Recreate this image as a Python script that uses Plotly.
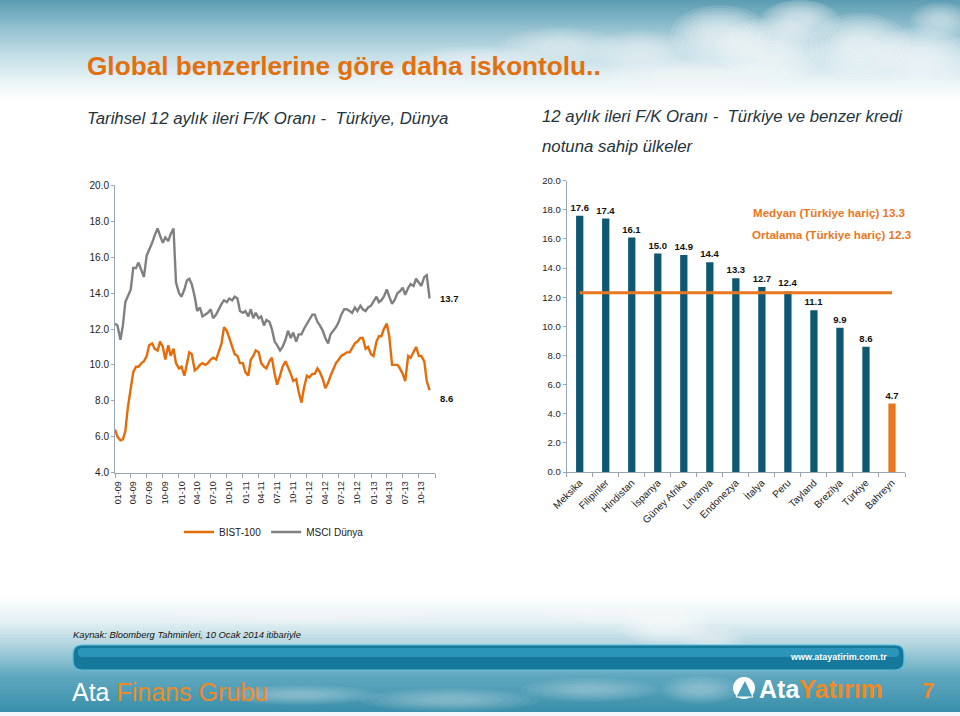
import pandas as pd
import plotly.graph_objects as go

# ---------------- data ----------------
msci_dunya = [12.3, 12.2, 11.4, 12.2, 13.5, 13.8, 14.2, 15.4, 15.4, 15.7,
              15.3, 14.9, 16.1, 16.4, 16.8, 17.2, 17.6, 17.2, 16.8, 17.1,
              16.9, 17.3, 17.6, 14.6, 14.0, 13.8, 14.2, 14.7, 14.8, 14.5,
              13.8, 13.0, 13.2, 12.7, 12.8, 12.9, 13.1, 12.6, 12.8, 13.1,
              13.4, 13.6, 13.5, 13.7, 13.6, 13.8, 13.7, 13.0, 12.9, 13.0,
              12.7, 13.1, 12.6, 12.9, 12.6, 12.7, 12.2, 12.5, 12.4, 12.0,
              11.3, 11.1, 10.8, 11.0, 11.4, 11.9, 11.5, 11.8, 11.3, 11.7,
              11.7, 12.0, 12.3, 12.5, 12.8, 12.8, 12.4, 12.2, 11.9, 11.5,
              11.2, 11.7, 11.9, 12.1, 12.4, 12.8, 13.1, 13.1, 13.0, 12.9,
              13.2, 13.0, 13.3, 13.1, 13.0, 13.2, 13.3, 13.5, 13.8, 13.5,
              13.6, 13.8, 14.2, 13.8, 13.4, 13.6, 14.0, 14.1, 14.3, 13.9,
              14.3, 14.5, 14.4, 14.8, 14.6, 14.4, 14.9, 15.0, 13.7]
bist_100 = [6.4, 6.0, 5.8, 5.85, 6.3, 7.6, 8.7, 9.6, 9.9, 9.9,
            10.1, 10.2, 10.5, 11.1, 11.2, 10.9, 10.8, 11.3, 11.0, 10.3,
            11.1, 10.5, 10.9, 10.1, 9.8, 9.9, 9.4, 10.0, 10.7, 10.6,
            9.7, 9.8, 10.0, 10.1, 10.0, 10.1, 10.3, 10.4, 10.3, 10.7,
            11.2, 12.1, 11.9, 11.5, 11.0, 10.6, 10.5, 10.1, 10.1, 9.6,
            9.4, 10.3, 10.5, 10.8, 10.7, 10.1, 9.9, 9.8, 10.2, 10.4,
            9.5, 8.9, 9.4, 9.9, 10.2, 9.9, 9.5, 9.1, 9.2, 8.5,
            7.9, 8.7, 9.4, 9.3, 9.5, 9.5, 9.8, 9.6, 9.2, 8.7,
            9.0, 9.4, 9.8, 10.1, 10.3, 10.5, 10.6, 10.7, 10.7, 10.9,
            11.2, 11.3, 11.5, 11.5, 10.9, 11.0, 10.6, 10.5, 11.3, 11.6,
            11.6, 12.0, 12.3, 11.6, 10.0, 10.0, 10.0, 9.8, 9.5, 9.1,
            10.5, 10.4, 10.7, 11.0, 10.5, 10.5, 10.2, 9.1, 8.6]
dates = pd.date_range("2009-01-01", periods=len(msci_dunya), freq="SMS")

ulkeler = ["Meksika", "Filipinler", "Hindistan", "İspanya", "Güney Afrika", "Litvanya",
           "Endonezya", "İtalya", "Peru", "Tayland", "Brezilya", "Türkiye", "Bahreyn"]
fk_orani = [17.6, 17.4, 16.1, 15.0, 14.9, 14.4, 13.3, 12.7, 12.4, 11.1, 9.9, 8.6, 4.7]
vurgulu = "Bahreyn"
medyan = 13.3
ortalama = 12.3

# ---------------- style ----------------
W, H = 960, 716
FONT = "Liberation Sans, Arial, sans-serif"
ORANGE = "#E46C0A"
ORANGE2 = "#E87722"
GRAY = "#808080"
TEAL = "#0E5872"
AXIS = "#9AA6B2"
TXT = "#222222"


def px(x):
    return x / W


def py(y):
    return 1 - y / H


def mix(c1, c2, t):
    a = [int(c1[i:i + 2], 16) for i in (1, 3, 5)]
    b = [int(c2[i:i + 2], 16) for i in (1, 3, 5)]
    return "rgb(%d,%d,%d)" % tuple(round(a[k] + (b[k] - a[k]) * t) for k in range(3))


def grad(stops, y0, y1, step=2):
    out = []
    y = y0
    while y < y1:
        yc = y + step / 2
        col = stops[-1][1]
        for i in range(len(stops) - 1):
            if stops[i][0] <= yc <= stops[i + 1][0]:
                t = (yc - stops[i][0]) / (stops[i + 1][0] - stops[i][0])
                col = mix(stops[i][1], stops[i + 1][1], t)
                break
        out.append(dict(type="rect", xref="paper", yref="paper", x0=0, x1=1,
                        y0=max(0, py(y + step + 0.5)), y1=py(y), fillcolor=col,
                        line=dict(width=0), layer="below"))
        y += step
    return out


def cloud(cx, cy, rx, ry, op, n=8):
    out = []
    for k in range(n):
        s = 1.0 - k * (0.8 / n)
        out.append(dict(type="circle", xref="paper", yref="paper",
                        x0=px(cx - rx * s), x1=px(cx + rx * s),
                        y0=min(1, max(0, py(cy + ry * s))), y1=min(1, max(0, py(cy - ry * s))),
                        fillcolor="white", opacity=op / (n * 0.9), line=dict(width=0), layer="below"))
    return out


shapes = []
# header sky
shapes += grad([(0, "#5C9CB2"), (28, "#93C0CF"), (55, "#C3DEE7"), (80, "#E9F3F6"), (102, "#FFFFFF")], 0, 102)
# footer sky
shapes += grad([(596, "#FFFFFF"), (622, "#E4F0F4"), (646, "#AFD3DE"), (676, "#5FA8BF"), (712, "#3A8FAA")], 596, 712)
shapes.append(dict(type="rect", xref="paper", yref="paper", x0=0, x1=1, y0=0, y1=py(712),
                   fillcolor="#F2F7F9", line=dict(width=0), layer="below"))
# clouds (header)
for c in [(480, 60, 70, 14, 0.5), (560, 45, 60, 18, 0.5), (640, 50, 50, 20, 0.55),
          (720, 35, 50, 30, 0.85), (770, 50, 55, 32, 0.85), (800, 20, 40, 22, 0.75),
          (860, 45, 50, 32, 0.85), (920, 55, 50, 28, 0.75), (940, 20, 30, 18, 0.55),
          (700, 75, 100, 16, 0.6), (420, 75, 60, 10, 0.45)]:
    shapes += cloud(*c)
# clouds (footer)
for c in [(665, 625, 45, 22, 0.75), (610, 612, 70, 12, 0.6), (710, 640, 35, 14, 0.5),
          (300, 615, 150, 10, 0.45), (300, 695, 80, 10, 0.35), (450, 700, 90, 12, 0.35),
          (590, 690, 70, 12, 0.3), (700, 690, 40, 14, 0.35)]:
    shapes += cloud(*c)


# banner (rounded)
def rpath(x0, y0, x1, y1, r):
    return ("M %f %f L %f %f Q %f %f %f %f L %f %f Q %f %f %f %f L %f %f Q %f %f %f %f L %f %f Q %f %f %f %f Z" % (
        px(x0 + r), py(y0), px(x1 - r), py(y0), px(x1), py(y0), px(x1), py(y0 + r),
        px(x1), py(y1 - r), px(x1), py(y1), px(x1 - r), py(y1),
        px(x0 + r), py(y1), px(x0), py(y1), px(x0), py(y1 - r),
        px(x0), py(y0 + r), px(x0), py(y0), px(x0 + r), py(y0)))


shapes.append(dict(type="path", xref="paper", yref="paper", path=rpath(73, 645, 904, 670, 9),
                   fillcolor="#16799C", line=dict(color="#5FC0DC", width=1.2), layer="below"))
shapes.append(dict(type="path", xref="paper", yref="paper", path=rpath(78, 648, 899, 657, 4),
                   fillcolor="#2A95B8", line=dict(width=0), layer="below"))
# logo icon
shapes.append(dict(type="circle", xref="paper", yref="paper", x0=px(733), x1=px(755),
                   y0=py(699), y1=py(677), fillcolor="white", line=dict(width=0)))
shapes.append(dict(type="path", xref="paper", yref="paper",
                   path="M %f %f L %f %f L %f %f Z" % (px(736), py(697), px(745), py(680), px(753), py(697)),
                   fillcolor="#4A9DB7", line=dict(color="white", width=1)))

fig = go.Figure()

# ---------------- left chart ----------------
fig.add_trace(go.Scatter(x=dates, y=bist_100, name="BIST-100", mode="lines",
                         line=dict(color=ORANGE, width=2.4), xaxis="x", yaxis="y"))
fig.add_trace(go.Scatter(x=dates, y=msci_dunya, name="MSCI Dünya", mode="lines",
                         line=dict(color=GRAY, width=2.4), xaxis="x", yaxis="y"))

# ---------------- right chart ----------------
bar_colors = [ORANGE2 if u == vurgulu else TEAL for u in ulkeler]
fig.add_trace(go.Bar(x=ulkeler, y=fk_orani, marker=dict(color=bar_colors, line=dict(width=0)),
                     texttemplate="<b>%{y:.1f}</b>", textposition="outside", constraintext="none",
                     textfont=dict(family=FONT, size=9.5, color="#111111"),
                     cliponaxis=False, showlegend=False, xaxis="x2", yaxis="y2"))
fig.add_trace(go.Scatter(x=[ulkeler[0], ulkeler[-1]], y=[ortalama, ortalama], mode="lines",
                         line=dict(color=ORANGE2, width=3), showlegend=False,
                         xaxis="x2", yaxis="y2"))

ann = []
# end-of-series labels
ann.append(dict(x=px(438), xref="paper", y=msci_dunya[-1], yref="y", text="<b>%.1f</b>" % msci_dunya[-1],
                showarrow=False, xanchor="left", yanchor="middle", font=dict(size=9.5, color="#111111")))
ann.append(dict(x=px(438), xref="paper", y=bist_100[-1], yref="y", yshift=-8,
                text="<b>%.1f</b>" % bist_100[-1],
                showarrow=False, xanchor="left", yanchor="middle", font=dict(size=9.5, color="#111111")))
# median / mean labels
ann.append(dict(x=px(751), y=py(213), xref="paper", yref="paper", xanchor="left", yanchor="middle",
                text="<b>Medyan (Türkiye hariç) %.1f</b>" % medyan, showarrow=False,
                font=dict(size=11.6, color=ORANGE2)))
ann.append(dict(x=px(750), y=py(234), xref="paper", yref="paper", xanchor="left", yanchor="middle",
                text="<b>Ortalama (Türkiye hariç) %.1f</b>" % ortalama, showarrow=False,
                font=dict(size=11.6, color=ORANGE2)))
# titles
SUB = "#24343C"
ann.append(dict(x=px(85), y=py(66), xref="paper", yref="paper", xanchor="left", yanchor="middle",
                text="<b>Global benzerlerine göre daha iskontolu..</b>", showarrow=False,
                font=dict(size=26.2, color="#E2700F")))
ann.append(dict(x=px(85), y=py(118), xref="paper", yref="paper", xanchor="left", yanchor="middle",
                text="<i>Tarihsel 12 aylık ileri F/K Oranı -  Türkiye, Dünya</i>", showarrow=False,
                font=dict(size=16.8, color=SUB)))
ann.append(dict(x=px(540), y=py(116), xref="paper", yref="paper", xanchor="left", yanchor="middle",
                text="<i>12 aylık ileri F/K Oranı -  Türkiye ve benzer kredi</i>", showarrow=False,
                font=dict(size=16.8, color=SUB)))
ann.append(dict(x=px(540), y=py(146), xref="paper", yref="paper", xanchor="left", yanchor="middle",
                text="<i>notuna sahip ülkeler</i>", showarrow=False,
                font=dict(size=16.8, color=SUB)))
# footer
ann.append(dict(x=px(71), y=py(634), xref="paper", yref="paper", xanchor="left", yanchor="middle",
                text="<i>Kaynak: Bloomberg Tahminleri, 10 Ocak 2014 itibariyle</i>", showarrow=False,
                font=dict(size=9.4, color="#111111")))
ann.append(dict(x=px(889), y=py(657), xref="paper", yref="paper", xanchor="right", yanchor="middle",
                text="<b>www.atayatirim.com.tr</b>", showarrow=False,
                font=dict(size=9, color="white")))
ann.append(dict(x=px(70), y=py(692), xref="paper", yref="paper", xanchor="left", yanchor="middle",
                text="<span style='color:white'>Ata</span> <span style='color:#F08A24'>Finans Grubu</span>",
                showarrow=False, font=dict(size=25, color="white")))
ann.append(dict(x=px(757), y=py(689), xref="paper", yref="paper", xanchor="left", yanchor="middle",
                text="<b><span style='color:white'>Ata</span><span style='color:#F08A24'>Yatırım</span></b>",
                showarrow=False, font=dict(size=25, color="white")))
ann.append(dict(x=px(928), y=py(690), xref="paper", yref="paper", xanchor="center", yanchor="middle",
                text="<b>7</b>", showarrow=False, font=dict(size=22, color="#F08A24")))

tickfont = dict(family=FONT, size=10, color=TXT)
fig.update_layout(
    width=W, height=H, margin=dict(l=0, r=0, t=0, b=0, pad=0, autoexpand=False),
    paper_bgcolor="white", plot_bgcolor="rgba(0,0,0,0)",
    font=dict(family=FONT, color=TXT),
    shapes=shapes, annotations=ann,
    bargap=0.72,
    showlegend=True,
    legend=dict(orientation="h", x=px(274), xanchor="center", y=py(532), yanchor="middle",
                font=dict(family=FONT, size=10, color=TXT), bgcolor="rgba(0,0,0,0)",
                itemwidth=30, tracegroupgap=0),
    xaxis=dict(domain=[px(115), px(435)], type="date", range=["2009-01-01", "2014-01-01"],
               tick0="2009-01-01", dtick="M3", tickformat="%m-%y", ticklabelmode="period",
               tickangle=-90, tickfont=dict(family=FONT, size=9, color=TXT), automargin=False,
               showline=True, linecolor=AXIS, linewidth=1, ticks="outside", ticklen=4,
               tickcolor=AXIS, showgrid=False, zeroline=False, anchor="y"),
    yaxis=dict(domain=[py(472.6), py(185.4)], range=[4, 20], dtick=2, tickformat=".1f",
               tickfont=tickfont, showline=True, linecolor=AXIS, linewidth=1, ticks="outside",
               ticklen=3, tickcolor=AXIS, showgrid=False, zeroline=False, anchor="x",
               automargin=False),
    xaxis2=dict(domain=[px(566.7), px(905)], type="category", tickangle=-45,
                tickfont=dict(family=FONT, size=10, color=TXT), tickson="boundaries",
                showline=True, linecolor=AXIS, linewidth=1, ticks="outside", ticklen=4,
                tickcolor=AXIS, showgrid=False, zeroline=False, anchor="y2", automargin=False),
    yaxis2=dict(domain=[py(472), py(180.7)], range=[0, 20], dtick=2, tickformat=".1f",
                tickfont=dict(family=FONT, size=9.5, color=TXT), showline=True, linecolor=AXIS,
                linewidth=1, ticks="outside", ticklen=3, tickcolor=AXIS, showgrid=False,
                zeroline=False, anchor="x2", automargin=False),
)

fig.write_html("out.html")
